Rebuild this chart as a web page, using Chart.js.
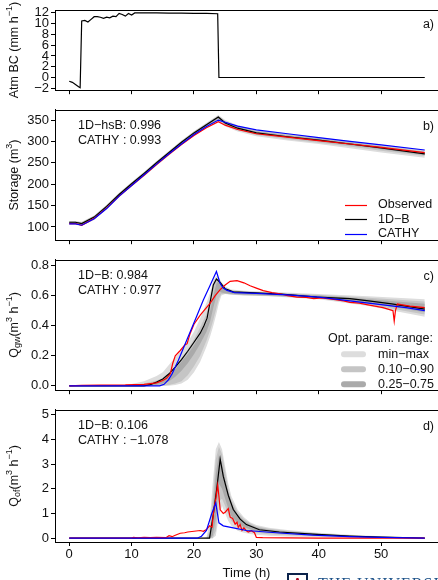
<!DOCTYPE html>
<html><head><meta charset="utf-8">
<script src="https://cdn.jsdelivr.net/npm/chart.js@4.4.1/dist/chart.umd.min.js"></script>
<style>
html,body{margin:0;padding:0;background:#fff;}
body{width:438px;height:580px;overflow:hidden;position:relative;font-family:"Liberation Sans",Arial,sans-serif;}
canvas{position:absolute;left:0;}
#logoBox{position:absolute;left:287px;top:573px;width:17px;height:14px;border:2px solid #0c234b;color:#ab0520;font:bold 11px "Liberation Sans",Arial,sans-serif;text-align:center;line-height:14px;}
#logoText{position:absolute;left:318px;top:575px;color:#1e5288;font:16px "Liberation Serif",serif;letter-spacing:1px;white-space:nowrap;}
</style></head><body>
<canvas id="ca" width="438" height="100" style="top:0px"></canvas>
<canvas id="cb" width="438" height="150" style="top:100px"></canvas>
<canvas id="cc" width="438" height="150" style="top:250px"></canvas>
<canvas id="cd" width="438" height="180" style="top:400px"></canvas>
<div id="logoBox">A</div>
<div id="logoText">THE UNIVERSITY OF ARIZONA</div>
<script>
// ---------------- DATA ----------------
const timeTicks = [0, 10, 20, 30, 40, 50];

// a) atmospheric boundary condition (mm/h)
const atmT = [0, 0.5, 1.0, 1.5, 1.75, 2.0, 2.5, 3.0, 3.5, 4.0, 4.5, 5.0, 5.5, 6.0, 6.5, 7.0, 7.5, 8.0, 8.5, 9.0, 9.5, 10.0, 10.5, 11, 12, 14, 16, 18, 20, 22, 23.8, 24.0, 30, 40, 50, 57];
const atmV = [-0.7, -0.9, -1.3, -1.7, -1.9, 10.5, 10.6, 10.3, 10.8, 11.3, 11.3, 11.2, 11.0, 11.2, 11.1, 11.4, 11.3, 11.9, 11.7, 11.4, 11.9, 11.6, 12.0, 12.0, 12.0, 12.0, 11.95, 11.95, 11.9, 11.9, 11.85, 0, 0, 0, 0, 0];
const atmTicks = [-2, 0, 2, 4, 6, 8, 10, 12];

// b) storage (m3)
const storT     = [0, 1, 2, 4, 6, 8, 10, 12, 14, 16, 18, 20, 22, 23.9, 25, 27, 30, 35, 40, 45, 50, 57];
const storObs   = [108, 108, 104, 120, 144, 172, 197, 221, 246, 270, 293, 314, 332, 346, 338, 328, 318, 310, 302, 294, 286, 274];
const stor1DB   = [111, 111, 108, 123, 148, 176, 201, 225, 250, 274, 298, 320, 339, 357, 343, 331, 320, 311, 303, 294, 285, 271];
const storCathy = [107, 107, 104, 119, 143, 172, 197, 222, 247, 271, 294, 316, 335, 350, 345, 336, 327, 318, 309, 300, 292, 280];
const storMinLo = [105, 105, 102, 116, 141, 169, 194, 218, 243, 267, 291, 313, 332, 348, 335, 323, 312, 302, 294, 284, 274, 262];
const storMinHi = [114, 114, 112, 127, 152, 180, 205, 229, 254, 278, 302, 324, 344, 362, 350, 338, 327, 318, 310, 301, 293, 280];
const storQ10Lo = [107, 107, 104, 118, 143, 171, 196, 220, 245, 269, 293, 315, 334, 351, 338, 326, 315, 305, 297, 288, 278, 266];
const storQ10Hi = [113, 113, 111, 126, 151, 179, 204, 228, 253, 277, 301, 323, 342, 360, 348, 336, 325, 316, 308, 299, 290, 277];
const storQ25Lo = [109, 109, 106, 120, 145, 173, 198, 222, 247, 271, 295, 317, 336, 353, 340, 328, 317, 308, 300, 291, 282, 268];
const storQ25Hi = [112, 112, 110, 125, 150, 178, 203, 227, 252, 276, 300, 322, 341, 359, 346, 334, 323, 314, 306, 297, 288, 274];
const storTicks = [100, 150, 200, 250, 300, 350];

// c) groundwater outflow Qgw (m3/h)
const gwObsT = [0, 2, 5, 9, 12, 14, 15, 15.6, 16.2, 16.6, 17, 17.8, 18.5, 18.9, 19.4, 20, 21, 22, 22.6, 23.4, 24.2, 25, 25.8, 26.9, 28, 29, 30, 31.1, 32.5, 33.8, 35, 36.5, 38, 39.2, 40.5, 42.4, 44, 45, 46.5, 47.7, 49, 50.3, 51.5, 51.9, 52.1, 52.3, 52.6, 53.2, 54.6, 57];
const gwObsV = [0, 0.003, 0.005, 0.006, 0.01, 0.02, 0.035, 0.05, 0.08, 0.15, 0.2, 0.235, 0.27, 0.28, 0.35, 0.41, 0.47, 0.52, 0.55, 0.6, 0.64, 0.67, 0.695, 0.70, 0.685, 0.665, 0.65, 0.633, 0.62, 0.612, 0.6, 0.59, 0.588, 0.58, 0.585, 0.575, 0.565, 0.555, 0.55, 0.54, 0.53, 0.52, 0.505, 0.5, 0.43, 0.5, 0.545, 0.54, 0.53, 0.52];
const gw1DBT = [0, 12, 13, 14, 15, 16, 17, 18, 19, 20, 21, 21.6, 22.1, 22.6, 23.1, 23.6, 24.2, 25, 26.3, 29, 34, 39.7, 45, 48, 51.7, 54, 57];
const gw1DBV = [0, 0, 0.008, 0.025, 0.045, 0.08, 0.125, 0.175, 0.23, 0.29, 0.35, 0.40, 0.45, 0.56, 0.67, 0.71, 0.687, 0.645, 0.625, 0.62, 0.61, 0.59, 0.58, 0.565, 0.545, 0.53, 0.51];
const gwCatT = [0, 14.5, 15.2, 15.9, 16.5, 17.5, 18.5, 19.5, 20.5, 21.5, 22.5, 23.6, 23.9, 24.2, 24.7, 25.3, 26.5, 30, 35, 40, 45, 50, 54, 57];
const gwCatV = [0, 0, 0.01, 0.04, 0.08, 0.17, 0.27, 0.37, 0.47, 0.57, 0.66, 0.76, 0.72, 0.68, 0.65, 0.635, 0.62, 0.615, 0.605, 0.59, 0.565, 0.54, 0.52, 0.5];
const gwBandT = [0, 8, 10, 12, 14, 15, 16, 17, 18, 19, 20, 21, 22, 22.6, 23.1, 23.6, 24.0, 24.4, 25, 26, 28, 32, 40, 48, 57];
const gwMinLo = [0, 0, 0, 0, 0, 0, 0, 0.005, 0.015, 0.04, 0.09, 0.16, 0.26, 0.33, 0.4, 0.48, 0.55, 0.6, 0.61, 0.605, 0.6, 0.595, 0.575, 0.53, 0.46];
const gwMinHi = [0, 0.003, 0.012, 0.03, 0.065, 0.09, 0.14, 0.19, 0.235, 0.29, 0.36, 0.45, 0.55, 0.62, 0.7, 0.73, 0.72, 0.69, 0.66, 0.64, 0.632, 0.625, 0.61, 0.595, 0.575];
const gwQ10Lo = [0, 0, 0, 0, 0, 0, 0.005, 0.015, 0.03, 0.07, 0.13, 0.2, 0.3, 0.37, 0.44, 0.52, 0.58, 0.61, 0.612, 0.607, 0.603, 0.598, 0.58, 0.54, 0.475];
const gwQ10Hi = [0, 0, 0.005, 0.015, 0.035, 0.05, 0.085, 0.13, 0.18, 0.24, 0.31, 0.39, 0.48, 0.56, 0.66, 0.71, 0.71, 0.68, 0.655, 0.635, 0.628, 0.62, 0.605, 0.585, 0.56];
const gwQ25Lo = [0, 0, 0, 0, 0.005, 0.015, 0.03, 0.06, 0.1, 0.15, 0.21, 0.28, 0.36, 0.43, 0.52, 0.6, 0.63, 0.62, 0.615, 0.61, 0.606, 0.6, 0.585, 0.55, 0.49];
const gwQ25Hi = [0, 0, 0, 0.005, 0.02, 0.04, 0.07, 0.11, 0.16, 0.21, 0.27, 0.34, 0.42, 0.5, 0.6, 0.68, 0.7, 0.67, 0.648, 0.63, 0.624, 0.615, 0.6, 0.575, 0.545];
const gwTicks = [0, 0.2, 0.4, 0.6, 0.8];

// d) overland flow Qof (m3/h)
const ofObsT = [0, 10, 10.3, 11, 12, 13, 14, 15.5, 16, 16.5, 17, 17.8, 18.5, 19, 20, 21, 21.5, 22, 22.5, 22.9, 23.2, 23.5, 23.8, 24.0, 24.2, 24.7, 25.0, 25.5, 25.8, 26.2, 26.6, 26.9, 27.1, 27.4, 27.7, 28.0, 28.4, 28.7, 29.2, 29.7, 30, 31, 35, 40, 50, 57];
const ofObsV = [0, 0, 0.03, 0.01, 0.03, 0.02, 0.03, 0.02, 0.1, 0.06, 0.12, 0.2, 0.22, 0.25, 0.28, 0.31, 0.28, 0.35, 0.5, 0.45, 1.2, 1.6, 2.15, 1.7, 1.15, 1.0, 1.05, 1.2, 0.85, 0.8, 0.57, 0.65, 0.44, 0.55, 0.31, 0.42, 0.3, 0.25, 0.3, 0.22, 0.03, 0.02, 0.01, 0.005, 0, 0];
const of1DBT = [0, 22.5, 23.1, 23.7, 24.2, 24.7, 25.5, 26.3, 27.4, 28.4, 30.5, 33.7, 39, 45, 50, 57];
const of1DBV = [0, 0, 0.96, 2.1, 3.2, 2.5, 1.74, 1.16, 0.77, 0.55, 0.34, 0.25, 0.16, 0.08, 0.04, 0];
const ofCatT = [0, 20.5, 21.2, 22, 22.8, 23.5, 24.0, 24.7, 26.3, 28.4, 33.7, 39, 45, 50, 57];
const ofCatV = [0, 0, 0.08, 0.31, 0.96, 1.42, 0.62, 0.5, 0.42, 0.31, 0.21, 0.12, 0.06, 0.03, 0];
const ofBandT = [0, 21.5, 22, 22.5, 23, 23.5, 24, 24.5, 25, 25.5, 26, 27, 28, 29, 30, 32, 35, 40, 45, 50, 57];
const ofMinLo = [0, 0, 0, 0, 0, 0.1, 0.9, 1.3, 1.0, 0.7, 0.5, 0.3, 0.22, 0.17, 0.14, 0.1, 0.07, 0.04, 0.02, 0.01, 0];
const ofMinHi = [0, 0, 0.05, 0.6, 2.2, 3.6, 3.9, 3.6, 2.9, 2.2, 1.7, 1.15, 0.85, 0.65, 0.53, 0.42, 0.33, 0.22, 0.14, 0.08, 0.02];
const ofQ10Lo = [0, 0, 0, 0, 0, 0.3, 1.5, 1.6, 1.3, 0.95, 0.7, 0.45, 0.33, 0.26, 0.22, 0.16, 0.12, 0.08, 0.04, 0.02, 0];
const ofQ10Hi = [0, 0, 0, 0.3, 1.6, 3.2, 3.7, 3.4, 2.7, 2.0, 1.55, 1.05, 0.78, 0.6, 0.48, 0.38, 0.3, 0.19, 0.11, 0.06, 0.01];
const ofQ25Lo = [0, 0, 0, 0, 0.1, 0.8, 2.2, 2.0, 1.6, 1.2, 0.9, 0.6, 0.45, 0.36, 0.3, 0.23, 0.18, 0.12, 0.07, 0.03, 0];
const ofQ25Hi = [0, 0, 0, 0.1, 1.0, 2.6, 3.4, 3.0, 2.4, 1.8, 1.4, 0.95, 0.7, 0.54, 0.43, 0.34, 0.26, 0.17, 0.1, 0.05, 0.01];
const ofTicks = [0, 1, 2, 3, 4, 5];

const seriesNames = ['Observed', '1D−B', 'CATHY'];
const bandNames = ['min−max', '0.10−0.90', '0.25−0.75'];

// ---------------- STYLE ----------------
const FAM = '"Liberation Sans", Arial, Helvetica, sans-serif';
const AX = '#000';
const TXT = '#111';
const lineColors = ['#ff0000', '#000000', '#0000ff'];
const bandColors = ['#dddddd', '#c5c5c5', '#aaaaaa'];
const X_MIN = -2.28, X_MAX = 59.12;

Chart.defaults.font.family = FAM;
Chart.defaults.font.size = 13;
Chart.defaults.color = TXT;

const pts = (t, v) => t.map((x, i) => ({x: x, y: v[i]}));
const fmtMinus = v => (v < 0 ? '−' + Math.abs(v) : String(v));

function drawRich(ctx, segs, cx, cy) {
  ctx.save();
  ctx.translate(cx, cy);
  ctx.rotate(-Math.PI / 2);
  ctx.textBaseline = 'middle';
  ctx.textAlign = 'left';
  let total = 0;
  segs.forEach(s => { ctx.font = s.s + 'px ' + FAM; total += ctx.measureText(s.t).width; });
  let x = -total / 2;
  segs.forEach(s => {
    ctx.font = s.s + 'px ' + FAM;
    ctx.fillStyle = TXT;
    ctx.fillText(s.t, x, s.dy || 0);
    x += ctx.measureText(s.t).width;
  });
  ctx.restore();
}

const panelPlugin = {
  id: 'panel',
  afterDraw(chart, args, o) {
    const ctx = chart.ctx, ca = chart.chartArea;
    ctx.save();
    ctx.strokeStyle = AX; ctx.lineWidth = 1;
    ctx.beginPath();
    const yt = Math.round(ca.top) + 0.5;
    ctx.moveTo(ca.left, yt); ctx.lineTo(ca.right, yt); ctx.stroke();
    drawRich(ctx, o.ytitle, 15, (ca.top + ca.bottom) / 2);
    ctx.fillStyle = TXT;
    ctx.font = '12.5px ' + FAM;
    ctx.textBaseline = 'middle';
    ctx.textAlign = 'right';
    ctx.fillText(o.label, 434, ca.top + o.labelDy);
    ctx.textAlign = 'left';
    (o.notes || []).forEach((n, i) => ctx.fillText(n, 78, ca.top + 16 + i * 14.5));
    if (o.lineLegend) {
      seriesNames.forEach((n, i) => {
        const y = ca.top + 95 + i * 14.5;
        ctx.strokeStyle = lineColors[i]; ctx.lineWidth = 1.2;
        ctx.beginPath(); ctx.moveTo(345, Math.round(y) + 0.5); ctx.lineTo(367, Math.round(y) + 0.5); ctx.stroke();
        ctx.fillStyle = TXT;
        ctx.fillText(n, 378, y);
      });
    }
    if (o.bandLegend) {
      ctx.textAlign = 'right';
      ctx.fillText('Opt. param. range:', 433, ca.top + 79);
      ctx.textAlign = 'left';
      bandNames.forEach((n, i) => {
        const y = ca.top + 94.5 + i * 15;
        ctx.strokeStyle = bandColors[i]; ctx.lineWidth = 6; ctx.lineCap = 'round';
        ctx.beginPath(); ctx.moveTo(344, y); ctx.lineTo(363, y); ctx.stroke();
        ctx.fillStyle = TXT;
        ctx.fillText(n, 378, y);
      });
    }
    if (o.xtitle) {
      ctx.textAlign = 'center';
      ctx.font = '13px ' + FAM;
      ctx.fillText(o.xtitle, (ca.left + ca.right) / 2, ca.bottom + 31);
    }
    ctx.restore();
  }
};

function lineDs(data, color, order) {
  return {data: data, borderColor: color, borderWidth: 1.2, pointRadius: 0, tension: 0, fill: false, order: order};
}

function buildDatasets(lines, bands) {
  const ds = [];
  // lines: [obs, 1db, cathy] ; draw cathy on top, then obs, then 1db
  const ord = [1, 2, 0];
  lines.forEach((d, i) => ds.push(lineDs(d, lineColors[i], ord[i])));
  bands.forEach((b, k) => {
    const order = 10 - k;
    const loIdx = ds.length;
    ds.push({data: b[0], borderWidth: 0, pointRadius: 0, fill: false, order: order, borderColor: 'rgba(0,0,0,0)'});
    ds.push({data: b[1], borderWidth: 0, pointRadius: 0, fill: loIdx, backgroundColor: bandColors[k], order: order, borderColor: 'rgba(0,0,0,0)'});
  });
  return ds;
}

function makeChart(id, datasets, cfg) {
  const axisGrid = {drawOnChartArea: false, drawTicks: true, tickLength: 4, color: AX, lineWidth: 1};
  return new Chart(document.getElementById(id), {
    type: 'line',
    data: {datasets: datasets},
    options: {
      responsive: false, animation: false, events: [],
      layout: {padding: {top: cfg.top, left: 0, right: 0, bottom: 0}},
      plugins: {
        legend: {display: false}, tooltip: {enabled: false},
        filler: {drawTime: 'beforeDatasetsDraw', propagate: false},
        panel: cfg.panel
      },
      scales: {
        x: {
          type: 'linear', min: X_MIN, max: X_MAX,
          afterBuildTicks: s => { s.ticks = timeTicks.map(v => ({value: v})); },
          afterFit: s => { s.height = cfg.xh; },
          grid: axisGrid, border: {display: true, color: AX, width: 1},
          ticks: {display: cfg.xlabels, padding: 1, color: TXT, font: {size: 13}, maxRotation: 0, autoSkip: false}
        },
        y: {
          type: 'linear', min: cfg.ymin, max: cfg.ymax,
          afterBuildTicks: s => { s.ticks = cfg.yticks.map(v => ({value: v})); },
          afterFit: s => { s.width = 55; },
          grid: axisGrid, border: {display: true, color: AX, width: 1},
          ticks: {padding: 2, color: TXT, font: {size: 13}, autoSkip: false, callback: cfg.yfmt}
        }
      }
    },
    plugins: [panelPlugin]
  });
}

const S = 12.5, SS = 9;

// a)
makeChart('ca', [lineDs(pts(atmT, atmV), '#000', 0)], {
  top: 10, xh: 7, xlabels: false, ymin: -2.36, ymax: 12.54, yticks: atmTicks, yfmt: fmtMinus,
  panel: {label: 'a)', labelDy: 15, ytitle: [{t: 'Atm BC (mm h', s: S}, {t: '−1', s: SS, dy: -5}, {t: ')', s: S}]}
});

// b)
makeChart('cb', buildDatasets(
  [pts(storT, storObs), pts(storT, stor1DB), pts(storT, storCathy)],
  [[pts(storT, storMinLo), pts(storT, storMinHi)], [pts(storT, storQ10Lo), pts(storT, storQ10Hi)], [pts(storT, storQ25Lo), pts(storT, storQ25Hi)]]
), {
  top: 4, xh: 8, xlabels: false, ymin: 69, ymax: 374, yticks: storTicks, yfmt: v => String(v),
  panel: {label: 'b)', labelDy: 17, notes: ['1D−hsB: 0.996', 'CATHY : 0.993'], lineLegend: true,
    ytitle: [{t: 'Storage (m', s: S}, {t: '3', s: SS, dy: -5}, {t: ')', s: S}]}
});

// c)
makeChart('cc', buildDatasets(
  [pts(gwObsT, gwObsV), pts(gw1DBT, gw1DBV), pts(gwCatT, gwCatV)],
  [[pts(gwBandT, gwMinLo), pts(gwBandT, gwMinHi)], [pts(gwBandT, gwQ10Lo), pts(gwBandT, gwQ10Hi)], [pts(gwBandT, gwQ25Lo), pts(gwBandT, gwQ25Hi)]]
), {
  top: 4, xh: 8, xlabels: false, ymin: -0.029, ymax: 0.838, yticks: gwTicks, yfmt: v => v.toFixed(1),
  panel: {label: 'c)', labelDy: 17, notes: ['1D−B: 0.984', 'CATHY : 0.977'], bandLegend: true,
    ytitle: [{t: 'Q', s: S}, {t: 'gw', s: SS, dy: 3}, {t: '(m', s: S}, {t: '3', s: SS, dy: -5}, {t: ' h', s: S}, {t: '−1', s: SS, dy: -5}, {t: ')', s: S}]}
});

// d)
makeChart('cd', buildDatasets(
  [pts(ofObsT, ofObsV), pts(of1DBT, of1DBV), pts(ofCatT, ofCatV)],
  [[pts(ofBandT, ofMinLo), pts(ofBandT, ofMinHi)], [pts(ofBandT, ofQ10Lo), pts(ofBandT, ofQ10Hi)], [pts(ofBandT, ofQ25Lo), pts(ofBandT, ofQ25Hi)]]
), {
  top: 4, xh: 38, xlabels: true, ymin: -0.155, ymax: 5.2, yticks: ofTicks, yfmt: v => String(v),
  panel: {label: 'd)', labelDy: 17, notes: ['1D−B: 0.106', 'CATHY : −1.078'], xtitle: 'Time (h)',
    ytitle: [{t: 'Q', s: S}, {t: 'of', s: SS, dy: 3}, {t: '(m', s: S}, {t: '3', s: SS, dy: -5}, {t: ' h', s: S}, {t: '−1', s: SS, dy: -5}, {t: ')', s: S}]}
});
</script>
</body></html>
